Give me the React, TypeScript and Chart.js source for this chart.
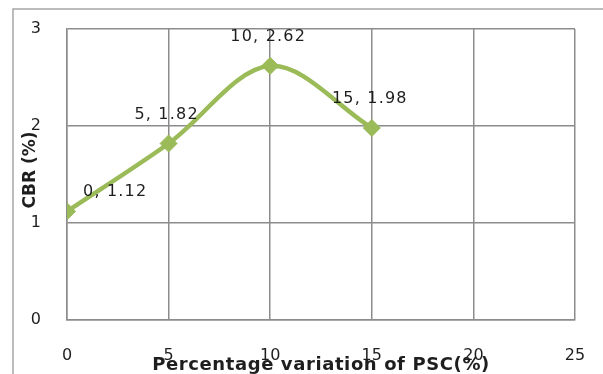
import React, { useEffect, useRef } from "react";
import { Chart, registerables } from "chart.js";

Chart.register(...registerables);

const pscPercent = [0, 5, 10, 15];
const cbrValues = [1.12, 1.82, 2.62, 1.98];
const xTickValues = [0, 5, 10, 15, 20, 25];
const yTickValues = [0, 1, 2, 3];
const xTitle = "Percentage variation of PSC(%)";
const yTitle = "CBR (%)";

const GREEN = "#9BBB59";
const GRID = "#8c8c8c";
const TEXT = "#1e1e1e";

const overlayPlugin = {
  id: "overlay",
  beforeDraw(chart: any) {
    const ctx = chart.ctx;
    ctx.save();
    ctx.fillStyle = "#ffffff";
    ctx.fillRect(0, 0, chart.width, chart.height);
    ctx.strokeStyle = "#a6a6a6";
    ctx.lineWidth = 1.5;
    ctx.strokeRect(13, 9, chart.width + 20, chart.height + 20);
    ctx.restore();
  },
  afterDatasetsDraw(chart: any) {
    const ctx = chart.ctx;
    const meta = chart.getDatasetMeta(0);
    ctx.save();
    ctx.font = "16px 'DejaVu Sans'";
    (ctx as any).letterSpacing = "1.2px";
    ctx.fillStyle = TEXT;
    ctx.textBaseline = "middle";
    meta.data.forEach((pt: any, i: number) => {
      const label = `${pscPercent[i]}, ${cbrValues[i].toFixed(2)}`;
      if (i === 0) {
        ctx.textAlign = "left";
        ctx.fillText(label, pt.x + 16, pt.y - 20);
      } else {
        ctx.textAlign = "center";
        ctx.fillText(label, pt.x - 2, pt.y - 29);
      }
    });
    ctx.restore();
  },
  afterDraw(chart: any) {
    const ctx = chart.ctx;
    const area = chart.chartArea;
    ctx.save();
    ctx.fillStyle = TEXT;
    ctx.textAlign = "center";
    ctx.textBaseline = "middle";
    ctx.font = "bold 18px 'DejaVu Sans'";
    (ctx as any).letterSpacing = "0.6px";
    ctx.fillText(xTitle, (area.left + area.right) / 2, 365);
    ctx.translate(31, 170);
    ctx.rotate(-Math.PI / 2);
    ctx.font = "bold 17px 'DejaVu Sans'";
    (ctx as any).letterSpacing = "0px";
    ctx.fillText(yTitle, 0, 0);
    ctx.restore();
  },
};

export default function App() {
  const canvasRef = useRef<HTMLCanvasElement | null>(null);

  useEffect(() => {
    const canvas = canvasRef.current;
    if (!canvas) return;
    const chart = new Chart(canvas, {
      type: "line",
      data: {
        datasets: [
          {
            data: pscPercent.map((x, i) => ({ x, y: cbrValues[i] })),
            borderColor: GREEN,
            backgroundColor: GREEN,
            borderWidth: 4.5,
            tension: 0.33,
            pointStyle: "rectRot",
            pointRadius: 8.5,
            pointBorderWidth: 1,
            pointBackgroundColor: GREEN,
            pointBorderColor: GREEN,
            fill: false,
          },
        ],
      },
      options: {
        responsive: false,
        animation: false,
        devicePixelRatio: 1,
        layout: { padding: { top: 29, right: 28, left: 0, bottom: 0 } },
        plugins: {
          legend: { display: false },
          tooltip: { enabled: false },
          title: { display: false },
        },
        scales: {
          x: {
            type: "linear",
            min: 0,
            max: 25,
            afterBuildTicks: (scale: any) => {
              scale.ticks = xTickValues.map((v) => ({ value: v }));
            },
            afterFit: (scale: any) => {
              scale.height = 54;
              scale.paddingLeft = 0;
              scale.paddingRight = 0;
            },
            ticks: {
              font: { family: "'DejaVu Sans'", size: 16 },
              color: TEXT,
              padding: 26,
              maxRotation: 0,
            },
            grid: { color: GRID, lineWidth: 1.5, drawTicks: false },
            border: { display: true, color: GRID, width: 1.5 },
          },
          y: {
            type: "linear",
            min: 0,
            max: 3,
            afterBuildTicks: (scale: any) => {
              scale.ticks = yTickValues.map((v) => ({ value: v }));
            },
            afterFit: (scale: any) => {
              scale.width = 67;
              scale.paddingTop = 0;
              scale.paddingBottom = 0;
            },
            ticks: {
              font: { family: "'DejaVu Sans'", size: 16 },
              color: TEXT,
              padding: 26,
            },
            grid: { color: GRID, lineWidth: 1.5, drawTicks: false },
            border: { display: true, color: GRID, width: 1.5 },
          },
        },
      },
      plugins: [overlayPlugin],
    });
    return () => chart.destroy();
  }, []);

  return (
    <div style={{ position: "absolute", left: 0, top: 0, width: 603, height: 374 }}>
      <canvas ref={canvasRef} width={603} height={374} />
    </div>
  );
}
